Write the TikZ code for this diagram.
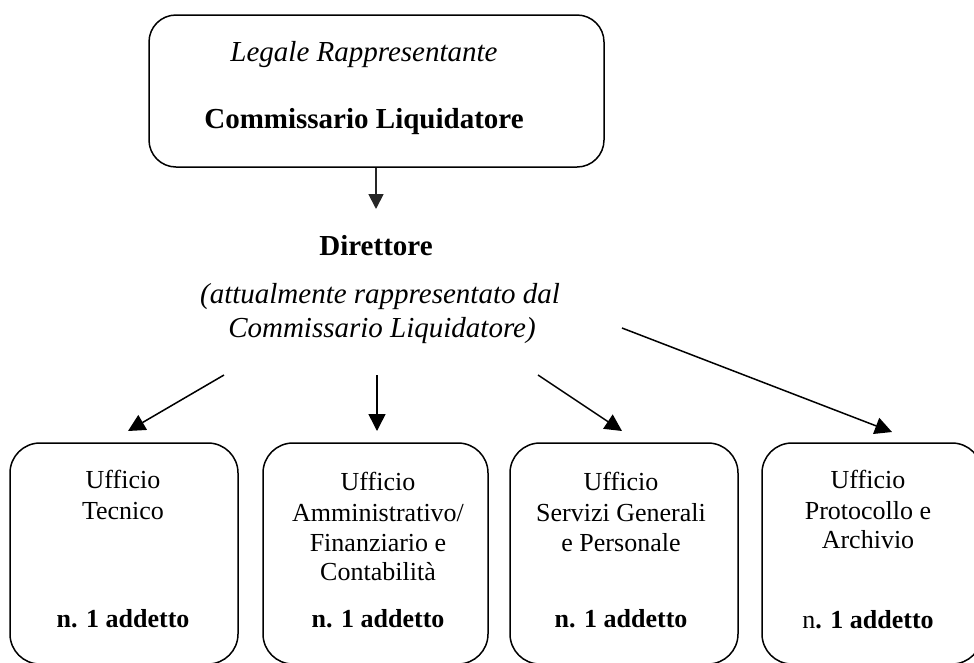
\documentclass[tikz,border=0pt]{standalone}
\usepackage{fontspec}
\setmainfont{Liberation Serif}
\usetikzlibrary{arrows.meta}
\tikzset{
  obox/.style={draw, line width=1.5pt, rounded corners=30pt, inner sep=0pt},
  tbox/.style={draw, line width=1.5pt, rounded corners=27pt, inner sep=0pt},
  arr/.style={line width=1.5pt, -{Triangle[length=17pt,width=17pt]}},
  tarr/.style={line width=1.8pt, -{Triangle[length=15pt,width=15pt]}, draw=black!85, fill=black!85},
  big/.style={anchor=base, inner sep=0pt, font=\fontsize{29}{34}\selectfont},
  small/.style={anchor=base, inner sep=0pt, font=\fontsize{26}{31}\selectfont},
}
\begin{document}
\begin{tikzpicture}[x=1pt,y=-1pt]
\useasboundingbox (0,0) rectangle (974,662);
\clip (0,0) rectangle (974,662);
% top box
\node[tbox, minimum width=455pt, minimum height=152pt] (top) at (376.5,91) {};
\node[big] (leg) at (364,61) {\itshape Legale Rappresentante};
\node[big] (comm) at (364,128) {\bfseries Commissario Liquidatore};
\coordinate (dirin) at (376,209);
\draw[tarr] (top.south -| dirin) -- (dirin);
% direttore
\node[big] (dir) at (376,255) {\bfseries Direttore};
\node[big] (att1) at (380,303) {\itshape (attualmente rappresentato dal};
\node[big] (att2) at (382,337) {\itshape Commissario Liquidatore)};
% bottom boxes
\node[obox, minimum width=228pt, minimum height=221pt] (b1) at (124,553.5) {};
\node[obox, minimum width=225pt, minimum height=221pt] (b2) at (375.5,553.5) {};
\node[obox, minimum width=228pt, minimum height=221pt] (b3) at (624,553.5) {};
\node[obox, minimum width=220pt, minimum height=221pt] (b4) at (872,553.5) {};
% box 1 text
\node[small] (b1a) at (123,488) {Ufficio};
\node[small] (b1b) at (123,519) {Tecnico};
\node[small] (b1n) at (123,627) {\bfseries n. 1 addetto};
% box 2 text
\node[small] (b2a) at (378,490) {Ufficio};
\node[small] (b2b) at (378,521) {Amministrativo/};
\node[small] (b2c) at (378,551) {Finanziario e};
\node[small] (b2d) at (378,580) {Contabilità};
\node[small] (b2n) at (378,627) {\bfseries n. 1 addetto};
% box 3 text
\node[small] (b3a) at (621,490) {Ufficio};
\node[small] (b3b) at (621,521) {Servizi Generali};
\node[small] (b3c) at (621,551) {e Personale};
\node[small] (b3n) at (621,627) {\bfseries n. 1 addetto};
% box 4 text
\node[small] (b4a) at (868,488) {Ufficio};
\node[small] (b4b) at (868,519) {Protocollo e};
\node[small] (b4c) at (868,548) {Archivio};
\node[small] (b4n) at (868,628) {n\textbf{. 1 addetto}};
% arrows
\coordinate (s1) at (224,375);
\coordinate (e1) at (128,431);
\coordinate (s2) at (377,375);
\coordinate (e2) at (377,431);
\coordinate (s3) at (538,375);
\coordinate (e3) at (622,431);
\coordinate (s4) at (622,328);
\coordinate (e4) at (892,432);
\draw[arr] (s1) -- (e1);
\draw[arr] (s2) -- (e2);
\draw[arr] (s3) -- (e3);
\draw[arr] (s4) -- (e4);
\end{tikzpicture}
\end{document}
